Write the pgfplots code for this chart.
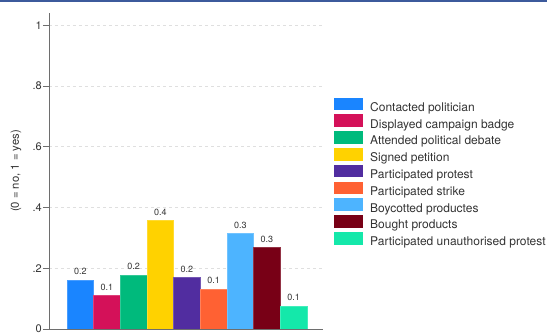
\documentclass[border=0pt]{standalone}
\usepackage{pgfplots}
\pgfplotsset{compat=1.18}
\usepackage{fontspec}
\setmainfont{TeX Gyre Heros}
\definecolor{c1}{HTML}{1A85FF}
\definecolor{c2}{HTML}{D41159}
\definecolor{c3}{HTML}{00BA7C}
\definecolor{c4}{HTML}{FFD200}
\definecolor{c5}{HTML}{512DA0}
\definecolor{c6}{HTML}{FF6133}
\definecolor{c7}{HTML}{4DB4FF}
\definecolor{c8}{HTML}{780016}
\definecolor{c9}{HTML}{14E8AA}
\definecolor{topline}{HTML}{3C5A9C}
\definecolor{axisgray}{HTML}{6E6E6E}
\definecolor{txt}{HTML}{333333}
\begin{document}
\begin{tikzpicture}[x=1pt,y=1pt]
\begin{axis}[
  at={(49pt,5pt)}, anchor=south west,
  scale only axis, width=274pt, height=316pt,
  xmin=-0.174, xmax=10.1, ymin=0, ymax=1.04,
  axis x line=bottom, axis y line=left,
  axis line style={-, draw=axisgray, line width=0.6pt},
  xtick=\empty,
  ytick={0,0.2,0.4,0.6,0.8,1},
  yticklabels={0,.2,.4,.6,.8,1},
  tick align=outside, major tick length=6pt,
  tick style={draw=axisgray, line width=0.5pt},
  yticklabel style={font=\fontsize{11}{13}\selectfont, text=txt, inner sep=1pt},
  /pgf/number format/assume math mode=true,
  ymajorgrids, major grid style={dashed, draw=gray!25, line width=0.5pt},
  ylabel={(0 = no, 1 = yes)},
  ylabel style={font=\fontsize{11.3}{13}\selectfont, text=txt, at={(axis description cs:-0.1204,0.5)}, rotate=0, anchor=center},
  ybar, bar width=26.67pt, bar shift=0pt,
  nodes near coords,
  every node near coord/.append style={font=\fontsize{9}{10}\selectfont, text=txt, yshift=1.5pt,
     /pgf/number format/fixed, /pgf/number format/precision=1, /pgf/number format/zerofill},
  legend cell align=left,
  legend image code/.code={\path[#1, draw=none] (0pt,-1.8pt) rectangle (29pt,10.8pt);},
  legend style={draw=none, fill=none, inner sep=0pt, at={(axis description cs:1.0401,0.7332)}, anchor=north west,
    font=\fontsize{12}{14}\selectfont, text=txt, row sep=0pt, column sep=7pt,
    nodes={inner sep=0pt, text height=9pt, text depth=3pt}},
]
\addplot[fill=c1, draw=c1!80!white] coordinates {(1,0.161)};
\addlegendentry{Contacted politician}
\addplot[fill=c2, draw=c2!80!white] coordinates {(2,0.110)};
\addlegendentry{Displayed campaign badge}
\addplot[fill=c3, draw=c3!80!white] coordinates {(3,0.178)};
\addlegendentry{Attended political debate}
\addplot[fill=c4, draw=c4!80!white] coordinates {(4,0.358)};
\addlegendentry{Signed petition}
\addplot[fill=c5, draw=c5!80!white] coordinates {(5,0.170)};
\addlegendentry{Participated protest}
\addplot[fill=c6, draw=c6!80!white] coordinates {(6,0.132)};
\addlegendentry{Participated strike}
\addplot[fill=c7, draw=c7!80!white] coordinates {(7,0.315)};
\addlegendentry{Boycotted productes}
\addplot[fill=c8, draw=c8!80!white] coordinates {(8,0.269)};
\addlegendentry{Bought products}
\addplot[fill=c9, draw=c9!80!white] coordinates {(9,0.076)};
\addlegendentry{Participated unauthorised protest}
\end{axis}
\draw[topline, line width=1.6pt] (0,333.2) -- (547,333.2);
\pgfresetboundingbox
\path[use as bounding box] (0,0) rectangle (547,334);
\end{tikzpicture}
\end{document}
